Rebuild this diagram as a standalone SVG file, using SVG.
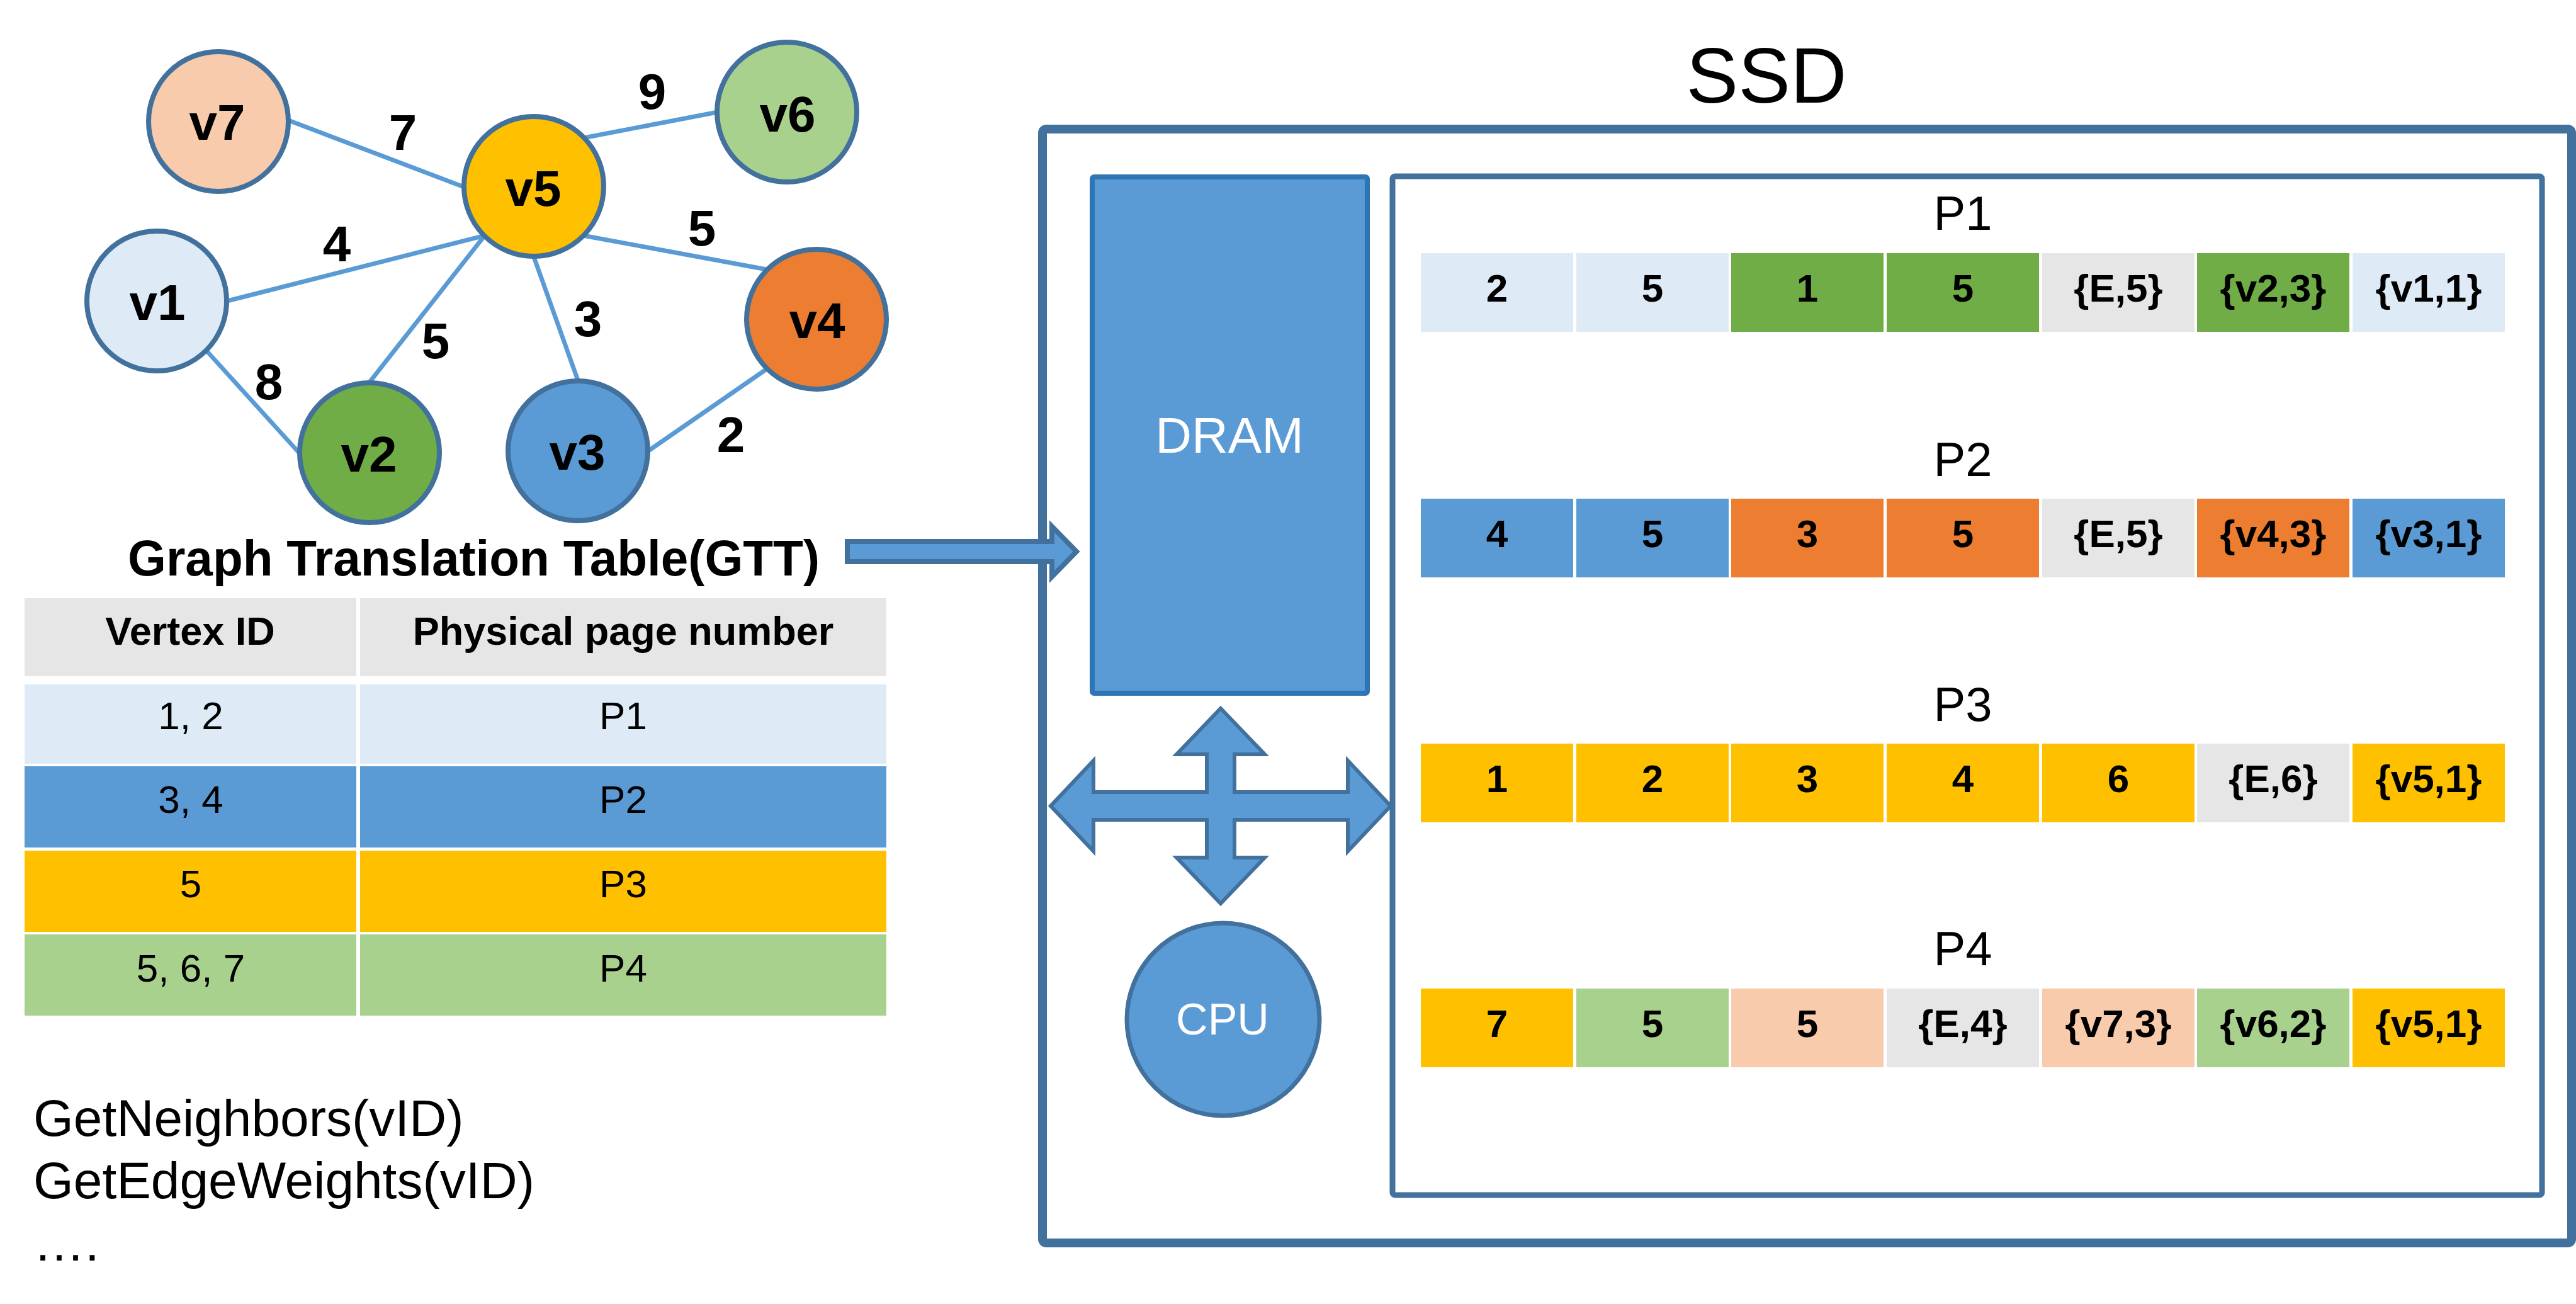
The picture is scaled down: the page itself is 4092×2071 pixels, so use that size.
<svg xmlns="http://www.w3.org/2000/svg" width="4092" height="2071" viewBox="0 0 4092 2071">
<style>
text{font-family:"Liberation Sans",Arial,sans-serif;fill:#000}
.node{stroke:#41719C;stroke-width:8}
.nl{font-size:80px;font-weight:bold;text-anchor:middle}
.el{font-size:80px;font-weight:bold;text-anchor:middle}
.edge{stroke:#5B9BD5;stroke-width:7;fill:none}
.th{font-size:63px;font-weight:bold;text-anchor:middle}
.td{font-size:62px;text-anchor:middle}
.api{font-size:82px}
.cell{font-size:62px;font-weight:bold;text-anchor:middle}
.pl{font-size:76px;text-anchor:middle}
.c1{fill:#DEEBF7}.c2{fill:#5B9BD5}.c3{fill:#FFC000}.c4{fill:#A9D18E}.c5{fill:#70AD47}.c6{fill:#ED7D31}.c7{fill:#F8CBAD}.cg{fill:#E7E6E6}
</style>
<rect width="4092" height="2071" fill="#fff"/>

<g id="connectors">
<line class="edge" x1="458" y1="191" x2="737" y2="297"/>
<line class="edge" x1="927" y1="219" x2="1140" y2="178"/>
<line class="edge" x1="361" y1="478" x2="770" y2="374"/>
<line class="edge" x1="587" y1="607" x2="770" y2="374"/>
<line class="edge" x1="918" y1="604" x2="848" y2="408"/>
<line class="edge" x1="926" y1="374" x2="1218" y2="428"/>
<line class="edge" x1="328" y1="557" x2="475" y2="719"/>
<line class="edge" x1="1030" y1="716" x2="1218" y2="586"/>
<text class="el" x="640" y="238">7</text>
<text class="el" x="1036" y="173">9</text>
<text class="el" x="535" y="415">4</text>
<text class="el" x="1115" y="390">5</text>
<text class="el" x="934" y="534">3</text>
<text class="el" x="692" y="569">5</text>
<text class="el" x="427" y="634">8</text>
<text class="el" x="1161" y="718">2</text>
</g>

<g id="v7"><circle class="node" cx="347" cy="193" r="111" fill="#F8CBAD"/><text class="nl" x="345" y="222">v7</text></g>
<g id="v5"><circle class="node" cx="848" cy="296" r="111" fill="#FFC000"/><text class="nl" x="847" y="327">v5</text></g>
<g id="v6"><circle class="node" cx="1250" cy="178" r="111" fill="#A9D18E"/><text class="nl" x="1251" y="209">v6</text></g>
<g id="v1"><circle class="node" cx="249" cy="478" r="111" fill="#DEEBF7"/><text class="nl" x="250" y="508">v1</text></g>
<g id="v4"><circle class="node" cx="1297" cy="507" r="111" fill="#ED7D31"/><text class="nl" x="1298" y="537">v4</text></g>
<g id="v2"><circle class="node" cx="587" cy="719" r="111" fill="#70AD47"/><text class="nl" x="586" y="749">v2</text></g>
<g id="v3"><circle class="node" cx="918" cy="716" r="111" fill="#5B9BD5"/><text class="nl" x="917" y="746">v3</text></g>

<g id="gtt">
<text x="203" y="914" font-size="80" font-weight="bold" textLength="1099" lengthAdjust="spacingAndGlyphs">Graph Translation Table(GTT)</text>
<rect class="cg" x="39" y="950" width="527" height="124"/>
<rect class="cg" x="572" y="950" width="836" height="124"/>
<text class="th" x="302" y="1024">Vertex ID</text>
<text class="th" x="990" y="1024">Physical page number</text>
<rect class="c1" x="39" y="1087" width="527" height="126"/>
<rect class="c1" x="572" y="1087" width="836" height="126"/>
<rect class="c2" x="39" y="1217" width="527" height="129"/>
<rect class="c2" x="572" y="1217" width="836" height="129"/>
<rect class="c3" x="39" y="1351" width="527" height="129"/>
<rect class="c3" x="572" y="1351" width="836" height="129"/>
<rect class="c4" x="39" y="1484" width="527" height="129"/>
<rect class="c4" x="572" y="1484" width="836" height="129"/>
<text class="td" x="303" y="1158">1, 2</text><text class="td" x="990" y="1158">P1</text>
<text class="td" x="303" y="1291">3, 4</text><text class="td" x="990" y="1291">P2</text>
<text class="td" x="303" y="1425">5</text><text class="td" x="990" y="1425">P3</text>
<text class="td" x="303" y="1559">5, 6, 7</text><text class="td" x="990" y="1559">P4</text>
</g>

<g id="api">
<text class="api" x="53" y="1804">GetNeighbors(vID)</text>
<text class="api" x="53" y="1903">GetEdgeWeights(vID)</text>
<text class="api" x="53" y="2002">….</text>
</g>

<g id="ssd">
<text x="2806" y="163" font-size="124" text-anchor="middle">SSD</text>
<rect x="1656" y="205" width="2429" height="1769" rx="6" fill="none" stroke="#41719C" stroke-width="14"/>
</g>

<g id="gtt-arrow">
<path d="M1346,860 H1671 V836 L1710,876 L1671,916 V892 H1346 Z" fill="#5B9BD5" stroke="#41719C" stroke-width="8"/>
</g>

<g id="dram">
<rect x="1735" y="281" width="437" height="820" rx="3" fill="#5B9BD5" stroke="#2E75B6" stroke-width="8"/>
<text x="1953" y="719" font-size="80" text-anchor="middle" style="fill:#fff">DRAM</text>
</g>

<g id="bus">
<path d="M1939,1125 L2009,1198 H1961 V1258 H2141 V1208 L2209,1280 L2141,1352 V1302 H1961 V1362 H2009 L1939,1435 L1869,1362 H1917 V1302 H1737 V1352 L1669,1280 L1737,1208 V1258 H1917 V1198 H1869 Z" fill="#5B9BD5" stroke="#41719C" stroke-width="6" stroke-linejoin="miter"/>
</g>

<g id="cpu">
<circle cx="1943" cy="1619" r="153" fill="#5B9BD5" stroke="#41719C" stroke-width="7"/>
<text x="1942" y="1643" font-size="70" text-anchor="middle" style="fill:#fff">CPU</text>
</g>

<g id="flash">
<rect x="2212" y="280" width="1826" height="1618" rx="4" fill="none" stroke="#41719C" stroke-width="9"/>
</g>

<g id="page-P1">
<text class="pl" x="3118" y="365">P1</text>
<rect class="c1" x="2257" y="402" width="242" height="125"/>
<rect class="c1" x="2504" y="402" width="242" height="125"/>
<rect class="c5" x="2750" y="402" width="242" height="125"/>
<rect class="c5" x="2997" y="402" width="242" height="125"/>
<rect class="cg" x="3244" y="402" width="242" height="125"/>
<rect class="c5" x="3490" y="402" width="242" height="125"/>
<rect class="c1" x="3737" y="402" width="242" height="125"/>
<text class="cell" x="2378" y="479">2</text>
<text class="cell" x="2625" y="479">5</text>
<text class="cell" x="2871" y="479">1</text>
<text class="cell" x="3118" y="479">5</text>
<text class="cell" x="3365" y="479">{E,5}</text>
<text class="cell" x="3611" y="479">{v2,3}</text>
<text class="cell" x="3858" y="479">{v1,1}</text>
</g>

<g id="page-P2">
<text class="pl" x="3118" y="756">P2</text>
<rect class="c2" x="2257" y="792" width="242" height="125"/>
<rect class="c2" x="2504" y="792" width="242" height="125"/>
<rect class="c6" x="2750" y="792" width="242" height="125"/>
<rect class="c6" x="2997" y="792" width="242" height="125"/>
<rect class="cg" x="3244" y="792" width="242" height="125"/>
<rect class="c6" x="3490" y="792" width="242" height="125"/>
<rect class="c2" x="3737" y="792" width="242" height="125"/>
<text class="cell" x="2378" y="869">4</text>
<text class="cell" x="2625" y="869">5</text>
<text class="cell" x="2871" y="869">3</text>
<text class="cell" x="3118" y="869">5</text>
<text class="cell" x="3365" y="869">{E,5}</text>
<text class="cell" x="3611" y="869">{v4,3}</text>
<text class="cell" x="3858" y="869">{v3,1}</text>
</g>

<g id="page-P3">
<text class="pl" x="3118" y="1145">P3</text>
<rect class="c3" x="2257" y="1181" width="242" height="125"/>
<rect class="c3" x="2504" y="1181" width="242" height="125"/>
<rect class="c3" x="2750" y="1181" width="242" height="125"/>
<rect class="c3" x="2997" y="1181" width="242" height="125"/>
<rect class="c3" x="3244" y="1181" width="242" height="125"/>
<rect class="cg" x="3490" y="1181" width="242" height="125"/>
<rect class="c3" x="3737" y="1181" width="242" height="125"/>
<text class="cell" x="2378" y="1258">1</text>
<text class="cell" x="2625" y="1258">2</text>
<text class="cell" x="2871" y="1258">3</text>
<text class="cell" x="3118" y="1258">4</text>
<text class="cell" x="3365" y="1258">6</text>
<text class="cell" x="3611" y="1258">{E,6}</text>
<text class="cell" x="3858" y="1258">{v5,1}</text>
</g>

<g id="page-P4">
<text class="pl" x="3118" y="1533">P4</text>
<rect class="c3" x="2257" y="1570" width="242" height="125"/>
<rect class="c4" x="2504" y="1570" width="242" height="125"/>
<rect class="c7" x="2750" y="1570" width="242" height="125"/>
<rect class="cg" x="2997" y="1570" width="242" height="125"/>
<rect class="c7" x="3244" y="1570" width="242" height="125"/>
<rect class="c4" x="3490" y="1570" width="242" height="125"/>
<rect class="c3" x="3737" y="1570" width="242" height="125"/>
<text class="cell" x="2378" y="1647">7</text>
<text class="cell" x="2625" y="1647">5</text>
<text class="cell" x="2871" y="1647">5</text>
<text class="cell" x="3118" y="1647">{E,4}</text>
<text class="cell" x="3365" y="1647">{v7,3}</text>
<text class="cell" x="3611" y="1647">{v6,2}</text>
<text class="cell" x="3858" y="1647">{v5,1}</text>
</g>
</svg>
